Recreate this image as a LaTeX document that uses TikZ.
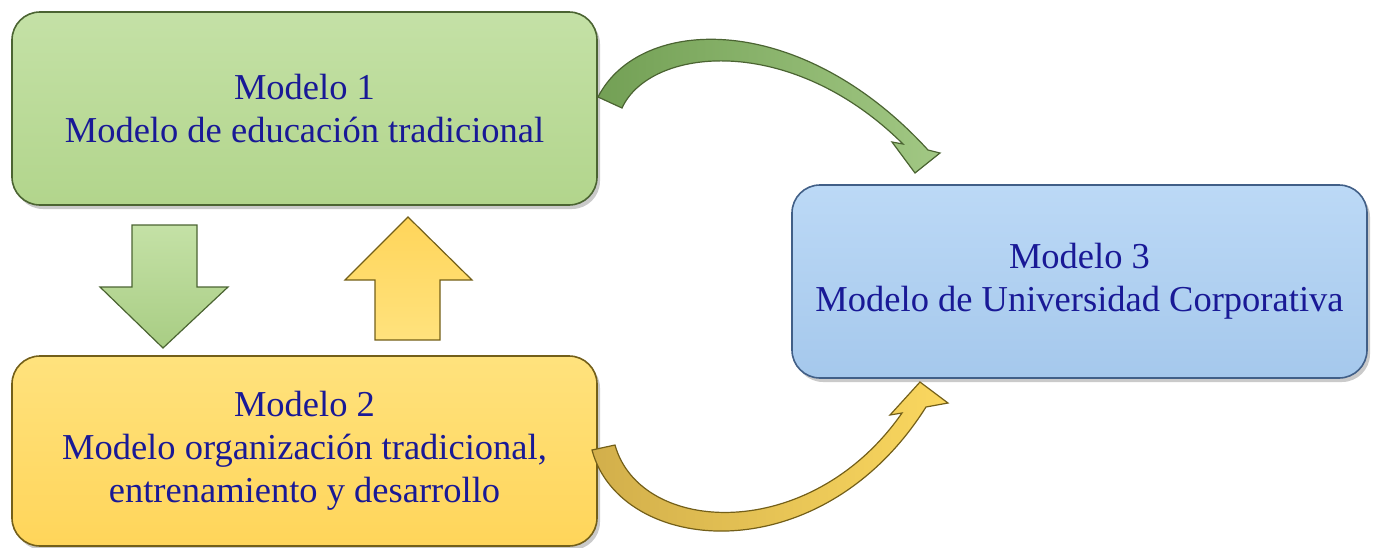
\documentclass[tikz,border=0pt]{standalone}
\usepackage{fontspec}
\setmainfont{Liberation Serif}
\usetikzlibrary{shadows,calc}
\definecolor{txt}{RGB}{25,25,150}
\definecolor{gfill}{RGB}{178,213,140}
\definecolor{gfilltop}{RGB}{196,225,166}
\definecolor{gdraw}{RGB}{75,100,50}
\definecolor{yfill}{RGB}{255,213,90}
\definecolor{yfilltop}{RGB}{255,226,125}
\definecolor{ydraw}{RGB}{115,95,25}
\definecolor{bfill}{RGB}{165,200,236}
\definecolor{bfilltop}{RGB}{188,217,246}
\definecolor{bdraw}{RGB}{65,95,135}
\definecolor{garrow}{RGB}{145,190,110}
\definecolor{garrowd}{RGB}{115,160,85}
\definecolor{yarrow}{RGB}{250,215,95}
\definecolor{yarrowd}{RGB}{210,175,75}
\tikzset{
  box/.style={rounded corners=28pt, line width=1.6pt, align=center,
    text=txt, font=\fontsize{36.5}{43}\selectfont,
    drop shadow={shadow xshift=3pt, shadow yshift=-4pt, opacity=0.35, fill=black!60}},
  gbox/.style={box, draw=gdraw, top color=gfilltop, bottom color=gfill},
  ybox/.style={box, draw=ydraw, top color=yfilltop, bottom color=yfill},
  bbox/.style={box, draw=bdraw, top color=bfilltop, bottom color=bfill},
  garr/.style={draw=gdraw, line width=1.2pt, line join=miter},
  yarr/.style={draw=ydraw, line width=1.2pt, line join=miter},
}
\begin{document}
\begin{tikzpicture}[x=1pt,y=-1pt]
\useasboundingbox (0,0) rectangle (1377,547);
\node[gbox, minimum width=585pt, minimum height=193pt] (m1) at (304.5,108.5)
  {Modelo 1\\Modelo de educación tradicional};
\node[ybox, minimum width=585pt, minimum height=190pt] (m2) at (304.5,451)
  {Modelo 2\\Modelo organización tradicional,\\entrenamiento y desarrollo};
\node[bbox, minimum width=575pt, minimum height=193pt] (m3) at (1079.5,281.5)
  {Modelo 3\\Modelo de Universidad Corporativa};
% green down arrow
\path[garr, top color=gfilltop, bottom color=gfill!85!garrowd]
  (132,225) -- (197,225) -- (197,287) -- (228,287) -- (163,348) -- (100,287) -- (132,287) -- cycle;
% yellow up arrow
\path[yarr, top color=yfill, bottom color=yfilltop]
  (408,217) -- (472,280) -- (440,280) -- (440,340) -- (375,340) -- (375,280) -- (345,280) -- cycle;
% green curved arrow
\path[garr, left color=garrowd, right color=garrow!85!white]
  (598,97) .. controls (640,15) and (800,10) .. (928,150) -- (940,153) -- (915,173) -- (892,142) -- (903,144)
  .. controls (790,32) and (650,47) .. (622,108) -- cycle;
% yellow curved arrow
\path[yarr, left color=yarrowd, right color=yarrow]
  (592,450) .. controls (620,555) and (820,575) .. (926,407) -- (948,403) -- (920,382) -- (890,415) -- (902,413)
  .. controls (810,545) and (640,535) .. (615,445) -- cycle;
\end{tikzpicture}
\end{document}
